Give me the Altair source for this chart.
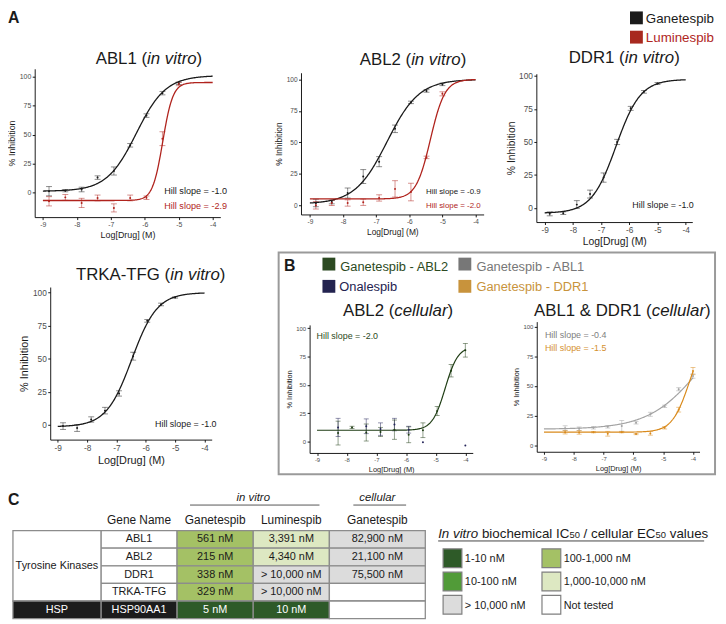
import altair as alt
import pandas as pd

W, H = 718, 616          # drawing size (page shows 718 x 616 after the 8px margin)
M = 8                    # chart px = reference px - M
FONT = "Liberation Sans"

# ---------------- concentrations (log10 M) ----------------
LOGC_VITRO = [-8.82, -8.34, -7.86, -7.39, -6.91, -6.43, -5.95, -5.48, -5.00]
LOGC_CELL = [-8.29, -7.82, -7.34, -6.86, -6.39, -5.91, -5.43, -4.95, -4.48, -4.00]

# ---------------- panel A: % inhibition (mean, error) ----------------
ABL1_GAN = [1.0, 1.5, 2.5, 12.8, 18.5, 40.7, 66.4, 85.8, 94.3]
ABL1_GAN_ERR = [4.0, 1.0, 2.0, 1.5, 3.5, 1.5, 1.5, 1.5, 1.0]
ABL1_LUM = [-7.7, -4.3, -9.1, -4.8, -13.4, -4.8, -4.6, 46.4, 93.7]
ABL1_LUM_ERR = [4.0, 2.5, 4.0, 2.5, 3.5, 2.5, 1.5, 6.0, 1.5]
ABL2_GAN = [1.8, 2.6, 9.7, 22.8, 34.6, 60.7, 81.7, 90.8, 96.0]
ABL2_GAN_ERR = [3.0, 1.5, 4.0, 5.5, 4.0, 3.0, 1.0, 1.0, 1.0]
ABL2_LUM = [0.0, 1.8, 1.8, 2.4, 5.8, 13.0, 10.5, 38.0, 88.5]
ABL2_LUM_ERR = [3.0, 2.0, 2.5, 2.5, 2.5, 6.5, 7.0, 1.0, 1.6]
DDR1_GAN = [-4.5, -4.0, 2.5, 10.5, 23.0, 50.0, 75.5, 88.0, 94.3]
DDR1_GAN_ERR = [1.5, 1.0, 3.0, 3.0, 3.5, 2.0, 1.5, 1.0, 0.7]
TRKA_GAN = [-1.0, -2.5, 4.0, 10.7, 23.7, 51.9, 78.6, 91.0, 96.3]
TRKA_GAN_ERR = [2.5, 2.5, 2.0, 2.5, 2.0, 3.0, 1.0, 1.0, 0.5]

# ---------------- panel B: cellular % inhibition ----------------
ABL2C_GAN = [7.5, 12.5, 8.0, 8.5, 10.5, 6.0, 10.0, 27.0, 62.5, 80.5]
ABL2C_GAN_ERR = [10.5, 1.0, 7.5, 4.0, 8.5, 7.0, 6.5, 4.0, 5.5, 6.0]
ABL2C_ONA = [12.5, None, 13.5, 11.0, 15.0, 10.5, -0.6, None, None, -3.5]
ABL2C_ONA_ERR = [8.0, None, 6.5, 5.5, 5.5, 3.0, None, None, None, None]
ABL1C_GAN = [14.4, 13.9, 14.7, 15.5, 16.3, 18.9, 26.1, 32.8, 47.2, 58.3]
ABL1C_GAN_ERR = [2.0, 1.5, 1.0, 1.0, 4.5, 1.0, 1.7, 1.0, 1.3, 1.8]
DDR1C_GAN = [11.0, 10.8, 11.0, 9.7, 11.0, 9.4, 10.0, 14.7, 30.0, 62.5]
DDR1C_GAN_ERR = [1.5, 1.5, 0.5, 2.0, 0.5, 0.5, 1.5, 1.0, 2.0, 3.0]

# fitted dose-response curves: (series, bottom, top, logIC50, Hill)
CURVES = {
    "ABL1": [("Ganetespib", 1.0, 101.0, -6.25, 1.0), ("Luminespib", -7.0, 95.0, -5.47, 2.9)],
    "ABL2": [("Ganetespib", 1.0, 100.0, -6.67, 0.9), ("Luminespib", 5.0, 100.0, -5.36, 2.0)],
    "DDR1": [("Ganetespib", -4.0, 97.5, -6.47, 1.0)],
    "TRKA": [("Ganetespib", -1.5, 100.0, -6.48, 1.0)],
    "ABL2C": [("Ganetespib - ABL2", 10.0, 84.0, -4.68, 2.0)],
    "ABL1DDR1C": [("Ganetespib - ABL1", 13.5, 116.0, -3.73, 0.5),
                  ("Ganetespib - DDR1", 11.0, 95.7, -4.12, 1.5)],
}
HILL = {
    "ABL1": ["-1.0", "-2.9"], "ABL2": ["-0.9", "-2.0"], "DDR1": ["-1.0"],
    "TRKA": ["-1.0"], "ABL2C": ["-2.0"], "ABL1DDR1C": ["-0.4", "-1.5"],
}

# ---------------- panel C: table ----------------
GENE_GROUP = ["Tyrosine Kinases"] * 4 + ["HSP"]
GENE = ["ABL1", "ABL2", "DDR1", "TRKA-TFG", "HSP90AA1"]
IC50_GAN_VITRO = ["561 nM", "215 nM", "338 nM", "329 nM", "5 nM"]
IC50_LUM_VITRO = ["3,391 nM", "4,340 nM", "> 10,000 nM", "> 10,000 nM", "10 nM"]
EC50_GAN_CELL = ["82,900 nM", "21,100 nM", "75,500 nM", "", ""]
BIN_LABELS = ["1-10 nM", "10-100 nM", "100-1,000 nM", "1,000-10,000 nM", "> 10,000 nM", "Not tested"]
BIN_COLORS = ["#2e5a28", "#519b38", "#a4c165", "#dde8c2", "#dcdcdc", "#ffffff"]

# ---------------- colours ----------------
COL = {
    "Ganetespib": "#1a1a1a", "Luminespib": "#b0231d",
    "Ganetespib - ABL2": "#1f3d14", "Onalespib": "#25255a",
    "Ganetespib - ABL1": "#a3a3a3", "Ganetespib - DDR1": "#d98a1c",
}
HILL_COL = {"Ganetespib": "#1a1a1a", "Luminespib": "#b0261e", "Ganetespib - ABL2": "#2c4a22",
            "Ganetespib - ABL1": "#808080", "Ganetespib - DDR1": "#d4902f"}

# ---------------- layout (reference pixels) ----------------
PANELS = {
    "ABL1": dict(x9=43.3, x4=215.0, y0=191.0, y100=74.0, left=35.0, right=222.7, bottom=216.0, top=66.0, tick=7.0, title=9.0, lw=1.3, cap=6),
    "ABL2": dict(x9=313.3, x4=480.8, y0=204.0, y100=76.7, left=304.3, right=489.0, bottom=213.3, top=70.0, tick=6.6, title=8.5, lw=1.3, cap=6),
    "DDR1": dict(x9=550.7, x4=693.3, y0=206.7, y100=73.3, left=542.3, right=700.0, bottom=221.0, top=71.0, tick=8.4, title=10.5, lw=1.3, cap=6),
    "TRKA": dict(x9=58.3, x4=206.7, y0=426.0, y100=292.3, left=50.7, right=214.0, bottom=441.0, top=286.7, tick=8.4, title=11.0, lw=1.3, cap=6),
    "ABL2C": dict(x9=320.5, x4=470.5, y0=443.0, y100=328.3, left=313.0, right=478.0, bottom=454.5, top=325.0, tick=6.0, title=7.5, lw=1.2, cap=5),
    "ABL1DDR1C": dict(x9=550.0, x4=700.7, y0=446.7, y100=326.7, left=542.7, right=707.3, bottom=453.3, top=321.7, tick=6.0, title=7.5, lw=1.2, cap=5),
}

AW = {"A": 667, "B": 667, "C": 722, "D": 722, "E": 667, "F": 611, "G": 778, "H": 722, "I": 278,
      "K": 667, "L": 556, "M": 833, "N": 722, "R": 722, "T": 611,
      "a": 556, "b": 556, "c": 500, "d": 556, "e": 556, "h": 556, "i": 222, "l": 222, "m": 833,
      "n": 556, "o": 556, "p": 556, "r": 333, "s": 500, "t": 278, "u": 556, "v": 500, "y": 500,
      " ": 278, "(": 333, ")": 333, "&": 667, "-": 333, "/": 278, ".": 278, ",": 278, "=": 584}


def tw(s, size):
    return sum(AW.get(ch, 556) for ch in s) / 1000.0 * size


TXT, SQ = [], []


def put(text, x, y, size, color="#1a1a1a", style="normal", weight="normal"):
    TXT.append(dict(text=text, x=x - M, y=y - M, size=size, color=color, style=style, weight=weight))


def put_runs(runs, x, y, color="#1a1a1a"):
    for text, size, style in runs:
        lead = len(text) - len(text.lstrip(" "))
        body = text.strip(" ")
        if body:
            put(body, x + tw(" " * lead, size), y, size, color, style)
        x += tw(text, size)


def square(x, y, side, color):
    SQ.append(dict(x=x - M, y=y - M, area=side * side, color=color))


# ---------------- dose-response panels ----------------
def frame(p):
    xs = (p["x4"] - p["x9"]) / 5.0
    ysc = (p["y0"] - p["y100"]) / 100.0
    return dict(
        xdom=[-9 + (p["left"] - p["x9"]) / xs, -9 + (p["right"] - p["x9"]) / xs],
        xr=[p["left"] - M, p["right"] - M],
        ydom=[(p["y0"] - p["bottom"]) / ysc, (p["y0"] - p["top"]) / ysc],
        yr=[p["bottom"] - M, p["top"] - M],
    )


def panel(key, series):
    p = PANELS[key]
    f = frame(p)
    xsc = alt.Scale(domain=f["xdom"], range=f["xr"], nice=False, zero=False)
    ysc = alt.Scale(domain=f["ydom"], range=f["yr"], nice=False, zero=False)
    xax = alt.Axis(orient="bottom", offset=f["yr"][0] - H, values=[-9, -8, -7, -6, -5, -4],
                   labelExpr="'' + datum.value", title="Log[Drug] (M)",
                   labelFontSize=p["tick"], titleFontSize=p["title"], labelFlush=False)
    yax = alt.Axis(orient="left", offset=-f["xr"][0], values=[0, 25, 50, 75, 100],
                   title="% Inhibition", labelFontSize=p["tick"], titleFontSize=p["title"])
    names = [s[0] for s in series]
    csc = alt.Scale(domain=names, range=[COL[n] for n in names])
    rows, dots = [], []
    for name, xs_, ms, es in series:
        for x, m, e in zip(xs_, ms, es):
            if m is None:
                continue
            dots.append(dict(series=name, logc=x, mean=m))
            if e:
                rows.append(dict(series=name, logc=x, lo=m - e, hi=m + e))
    X = alt.X("logc:Q", scale=xsc, axis=xax)
    C = alt.Color("series:N", scale=csc, legend=None)
    bars = alt.Chart(pd.DataFrame(rows))
    layers = [
        bars.mark_rule(strokeWidth=0.9, opacity=0.55).encode(
            x=X, y=alt.Y("lo:Q", scale=ysc, axis=yax), y2="hi:Q", color=C),
        bars.mark_tick(orient="horizontal", size=p["cap"], thickness=0.9, opacity=0.55).encode(
            x=X, y=alt.Y("lo:Q", scale=ysc, axis=yax), color=C),
        bars.mark_tick(orient="horizontal", size=p["cap"], thickness=0.9, opacity=0.55).encode(
            x=X, y=alt.Y("hi:Q", scale=ysc, axis=yax), color=C),
    ]
    for name, b, t, c, h in CURVES[key]:
        expr = f"{b} + ({t} - ({b})) / (1 + pow(10, (({c}) - datum.logc) * {h}))"
        layers.append(
            alt.Chart(alt.sequence(-9, -3.995, 0.02, as_="logc"))
            .transform_calculate(mean=expr, series=f"'{name}'")
            .mark_line(strokeWidth=p["lw"])
            .encode(x=X, y=alt.Y("mean:Q", scale=ysc, axis=yax), color=C)
        )
    layers.append(alt.Chart(pd.DataFrame(dots)).mark_circle(size=4, opacity=1).encode(
        x=X, y=alt.Y("mean:Q", scale=ysc, axis=yax), color=C))
    return alt.layer(*layers)


panels = [
    panel("ABL1", [("Ganetespib", LOGC_VITRO, ABL1_GAN, ABL1_GAN_ERR),
                   ("Luminespib", LOGC_VITRO, ABL1_LUM, ABL1_LUM_ERR)]),
    panel("ABL2", [("Ganetespib", LOGC_VITRO, ABL2_GAN, ABL2_GAN_ERR),
                   ("Luminespib", LOGC_VITRO, ABL2_LUM, ABL2_LUM_ERR)]),
    panel("DDR1", [("Ganetespib", LOGC_VITRO, DDR1_GAN, DDR1_GAN_ERR)]),
    panel("TRKA", [("Ganetespib", LOGC_VITRO, TRKA_GAN, TRKA_GAN_ERR)]),
    panel("ABL2C", [("Ganetespib - ABL2", LOGC_CELL, ABL2C_GAN, ABL2C_GAN_ERR),
                    ("Onalespib", LOGC_CELL, ABL2C_ONA, ABL2C_ONA_ERR)]),
    panel("ABL1DDR1C", [("Ganetespib - ABL1", LOGC_CELL, ABL1C_GAN, ABL1C_GAN_ERR),
                        ("Ganetespib - DDR1", LOGC_CELL, DDR1C_GAN, DDR1C_GAN_ERR)]),
]

# ---------------- titles, annotations, legends ----------------
put("A", 8, 20, 16, weight="bold")
put("B", 287, 270, 16, weight="bold")
put("C", 8, 507, 16, weight="bold")

TITLES = [
    ("ABL1 (", "in vitro", 96.7, 61), ("ABL2 (", "in vitro", 363.7, 62),
    ("DDR1 (", "in vitro", 575.0, 60), ("TRKA-TFG (", "in vitro", 76.7, 280),
    ("ABL2 (", "cellular", 346.7, 316), ("ABL1 & DDR1 (", "cellular", 540.0, 316),
]
for pre, it, x, y in TITLES:
    put_runs([(pre, 17, "normal"), (it, 17, "italic"), (")", 17, "normal")], x, y)

HILL_POS = {
    "ABL1": (166.0, [192.7, 207.3], 9.2), "ABL2": (430.7, [192.3, 206.7], 8.0),
    "DDR1": (639.3, [206.7], 9.0), "TRKA": (156.7, [428.3], 9.0),
    "ABL2C": (320.0, [339.0], 9.0), "ABL1DDR1C": (551.0, [338.3, 351.7], 9.0),
}
for key, (x, ys_, size) in HILL_POS.items():
    for (name, *_), slope, y in zip(CURVES[key], HILL[key], ys_):
        put(f"Hill slope = {slope}", x, y, size, HILL_COL[name])

# legend A
for name, yc in (("Ganetespib", 14.5), ("Luminespib", 34.0)):
    square(643.5, yc, 13, "#a8291f" if name == "Luminespib" else "#1a1a1a")
    put(name, 653.0, yc + 4.7, 13.5, "#b0261e" if name == "Luminespib" else "#1a1a1a")

# legend B
LEG_B = [("Ganetespib - ABL2", "#2c4a22", 332.5, 344.0, 263.5, 270.0),
         ("Ganetespib - ABL1", "#777777", 470.0, 481.7, 263.5, 270.0),
         ("Onalespib", "#23234f", 332.5, 343.0, 286.0, 291.0),
         ("Ganetespib - DDR1", "#c8933c", 470.0, 481.7, 286.0, 291.0)]
for name, c, sx, tx_, sy, ty_ in LEG_B:
    square(sx, sy, 13, c)
    put(name, tx_, ty_, 13, c)

# legend C title
put_runs([("In vitro", 13.5, "italic"), (" biochemical IC", 13.5, "normal"), ("50", 9.5, "normal"),
          (" / cellular EC", 13.5, "normal"), ("50", 9.5, "normal"), (" values", 13.5, "normal")],
         443.0, 540.5)

txt_df = pd.DataFrame(TXT)
text_layers = []
for (style, weight), d in txt_df.groupby(["style", "weight"]):
    text_layers.append(
        alt.Chart(d).mark_text(align="left", baseline="alphabetic", font=FONT,
                               fontStyle=style, fontWeight=weight).encode(
            x=alt.X("x:Q", scale=None), y=alt.Y("y:Q", scale=None), text="text:N",
            size=alt.Size("size:Q", scale=None), color=alt.Color("color:N", scale=None))
    )

squares = alt.Chart(pd.DataFrame(SQ)).mark_square(opacity=1, filled=True).encode(
    x=alt.X("x:Q", scale=None), y=alt.Y("y:Q", scale=None),
    size=alt.Size("area:Q", scale=None), color=alt.Color("color:N", scale=None))

one = pd.DataFrame({"k": [0]})
box = alt.Chart(one).mark_rect(fillOpacity=0, stroke="#9a9a9a", strokeWidth=2).encode(
    x=alt.value(281.7 - M), x2=alt.value(723.0 - M), y=alt.value(251.7 - M), y2=alt.value(476.0 - M))
leg_c_rule = alt.Chart(one).mark_rule(color="#444444", strokeWidth=1).encode(
    x=alt.value(443.0 - M), x2=alt.value(712.0 - M), y=alt.value(543.5 - M))


# ---------------- table (panel C) ----------------
def category(txt):
    if not txt:
        return "Not tested"
    if txt.startswith(">"):
        return "> 10,000 nM"
    v = float(txt.replace(" nM", "").replace(",", ""))
    if v <= 10:
        return "1-10 nM"
    if v <= 100:
        return "10-100 nM"
    if v <= 1000:
        return "100-1,000 nM"
    if v <= 10000:
        return "1,000-10,000 nM"
    return "> 10,000 nM"


cells = []
for r, gene in enumerate(GENE):
    hsp = GENE_GROUP[r] == "HSP"
    cells.append(dict(c0=1, r0=r, r1=r + 1, text=gene, cat="hsp" if hsp else "label"))
    for c, vals in ((2, IC50_GAN_VITRO), (3, IC50_LUM_VITRO), (4, EC50_GAN_CELL)):
        cells.append(dict(c0=c, r0=r, r1=r + 1, text=vals[r], cat=category(vals[r])))
for g in dict.fromkeys(GENE_GROUP):
    idx = [i for i, gg in enumerate(GENE_GROUP) if gg == g]
    cells.append(dict(c0=0, r0=min(idx), r1=max(idx) + 1, text=g, cat="hsp" if g == "HSP" else "label"))
cells = pd.DataFrame(cells)
cells["c1"] = cells["c0"] + 1
cells["cm"] = cells["c0"] + 0.5
cells["rm"] = (cells["r0"] + cells["r1"]) / 2
cells["ink"] = ["#ffffff" if c in ("hsp", "1-10 nM") else "#1a1a1a" for c in cells["cat"]]

TX_EDGES = [13, 102, 179, 256, 333, 430]
tx = alt.Scale(domain=list(range(6)), range=[e - M for e in TX_EDGES], nice=False, zero=False)
ty = alt.Scale(domain=[0, 5], range=[533 - M, 622 - M], nice=False, zero=False)
cat_dom = BIN_LABELS + ["label", "hsp"]
cat_rng = BIN_COLORS + ["#ffffff", "#1c1c1c"]

HEAD = pd.DataFrame([
    dict(text="Gene Name", cx=1.5, ry=-0.62), dict(text="Ganetespib", cx=2.5, ry=-0.62),
    dict(text="Luminespib", cx=3.5, ry=-0.62), dict(text="Ganetespib", cx=4.5, ry=-0.62)])
SUBHEAD = pd.DataFrame([dict(text="in vitro", cx=3.0, ry=-1.87), dict(text="cellular", cx=4.5, ry=-1.87)])
UNDER = pd.DataFrame([dict(a=2.17, b=3.87, ry=-1.45), dict(a=4.25, b=4.8, ry=-1.45)])

table = alt.layer(
    alt.Chart(cells).mark_rect(stroke="#8c8c8c", strokeWidth=1.3).encode(
        x=alt.X("c0:Q", scale=tx, axis=None), x2="c1:Q",
        y=alt.Y("r0:Q", scale=ty, axis=None), y2="r1:Q",
        fill=alt.Fill("cat:N", scale=alt.Scale(domain=cat_dom, range=cat_rng), legend=None)),
    alt.Chart(cells).mark_text(font=FONT, fontSize=11, baseline="middle").encode(
        x=alt.X("cm:Q", scale=tx, axis=None), y=alt.Y("rm:Q", scale=ty, axis=None),
        text="text:N", color=alt.Color("ink:N", scale=None)),
    alt.Chart(HEAD).mark_text(font=FONT, fontSize=12, baseline="middle", color="#1a1a1a").encode(
        x=alt.X("cx:Q", scale=tx, axis=None), y=alt.Y("ry:Q", scale=ty, axis=None), text="text:N"),
    alt.Chart(SUBHEAD).mark_text(font=FONT, fontSize=11.5, fontStyle="italic", baseline="middle",
                                 color="#1a1a1a").encode(
        x=alt.X("cx:Q", scale=tx, axis=None), y=alt.Y("ry:Q", scale=ty, axis=None), text="text:N"),
    alt.Chart(UNDER).mark_rule(color="#555555", strokeWidth=1).encode(
        x=alt.X("a:Q", scale=tx, axis=None), x2="b:Q", y=alt.Y("ry:Q", scale=ty, axis=None)),
)

# ---------------- colour key of panel C ----------------
LEG_C = pd.DataFrame({
    "label": BIN_LABELS,
    "col": [0, 0, 1, 1, 0, 1],
    "row": [0, 1, 0, 1, 2, 2],
})
lx = alt.Scale(domain=[0, 1], range=[457.5 - M, 557.5 - M], nice=False, zero=False)
ly = alt.Scale(domain=[0, 2], range=[561 - M, 608 - M], nice=False, zero=False)
leg_c = alt.layer(
    alt.Chart(LEG_C).mark_square(size=361, filled=True, opacity=1, stroke="#7f7f7f", strokeWidth=1.2).encode(
        x=alt.X("col:Q", scale=lx, axis=None), y=alt.Y("row:Q", scale=ly, axis=None),
        fill=alt.Fill("label:N", scale=alt.Scale(domain=BIN_LABELS, range=BIN_COLORS), legend=None)),
    alt.Chart(LEG_C).mark_text(font=FONT, fontSize=11, align="left", baseline="middle", dx=12.5,
                               dy=1, color="#1a1a1a").encode(
        x=alt.X("col:Q", scale=lx, axis=None), y=alt.Y("row:Q", scale=ly, axis=None), text="label:N"),
)

chart = (
    alt.layer(box, *panels, table, leg_c, leg_c_rule, squares, *text_layers)
    .resolve_scale(x="independent", y="independent", color="independent",
                   fill="independent", size="independent")
    .properties(width=W, height=H, autosize=alt.AutoSizeParams(type="none"), padding=0)
    .configure_view(strokeWidth=0)
    .configure_axis(grid=False, domainColor="#000000", domainWidth=0.9, tickColor="#000000",
                    tickWidth=0.9, tickSize=2.5, labelColor="#4d4d4d", labelFont=FONT,
                    titleFont=FONT, titleColor="#1a1a1a", titleFontWeight="normal",
                    labelPadding=1.5, titlePadding=2.5, labelOverlap=False)
)

chart.save("out.html", embed_options={"renderer": "svg", "actions": False})
